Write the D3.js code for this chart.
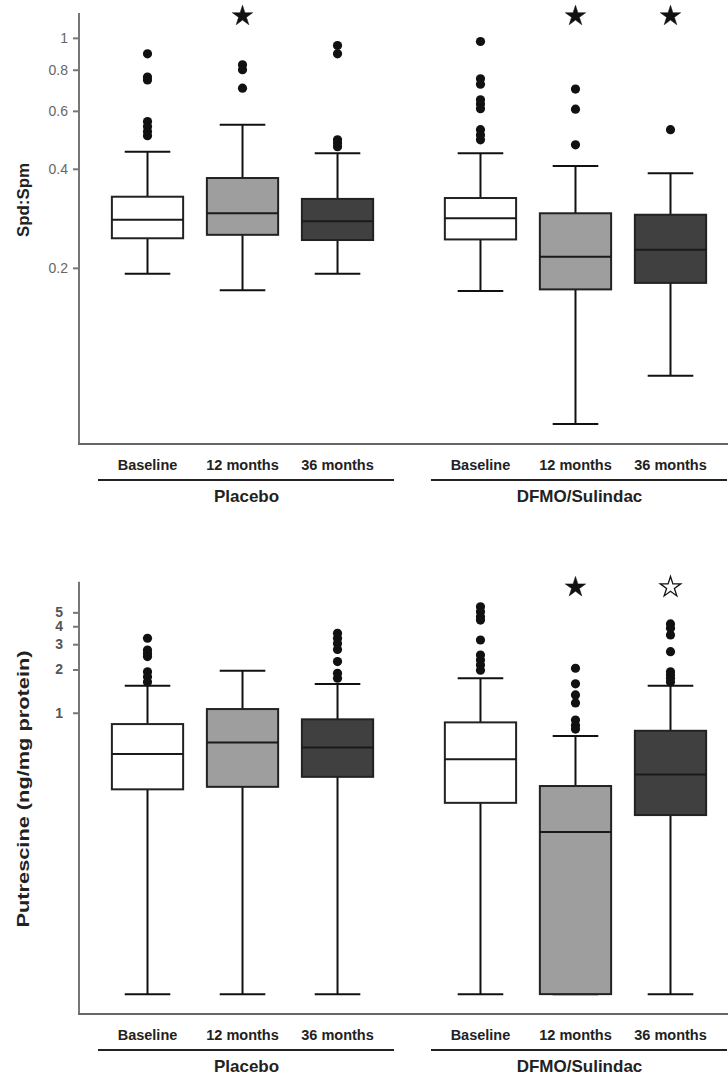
<!DOCTYPE html>
<html>
<head>
<meta charset="utf-8">
<script src="https://cdn.jsdelivr.net/npm/d3@7"></script>
<style>
  body { margin: 0; background: #fff; }
  text { font-family: "Liberation Sans", Arial, sans-serif; }
</style>
</head>
<body>
<svg id="chart" width="728" height="1086"></svg>
<script>
// categories
const groups = ["Placebo", "DFMO/Sulindac"];
const periods = ["Baseline", "12 months", "36 months"];

// Spd:Spm - order: Placebo (Baseline, 12, 36), DFMO/Sulindac (Baseline, 12, 36)
const spdLow = [0.192, 0.171, 0.192, 0.170, 0.067, 0.094];
const spdQ1 = [0.246, 0.252, 0.243, 0.244, 0.172, 0.180];
const spdMedian = [0.280, 0.293, 0.277, 0.283, 0.216, 0.227];
const spdQ3 = [0.329, 0.375, 0.324, 0.326, 0.293, 0.290];
const spdHigh = [0.451, 0.544, 0.446, 0.446, 0.408, 0.388];
const spdOutliers = [
  [0.894, 0.760, 0.745, 0.557, 0.538, 0.519, 0.504],
  [0.828, 0.800, 0.703],
  [0.948, 0.894, 0.490, 0.479, 0.467],
  [0.975, 0.751, 0.723, 0.648, 0.630, 0.609, 0.526, 0.507, 0.490],
  [0.699, 0.607, 0.473],
  [0.526]
];
const spdStars = ["", "filled", "", "", "filled", "filled"];
const spdTicks = [0.2, 0.4, 0.6, 0.8, 1];

// Putrescine (ng/mg protein)
const putLow = [0.011, 0.011, 0.011, 0.011, 0.011, 0.011];
const putQ1 = [0.293, 0.305, 0.358, 0.236, 0.011, 0.194];
const putMedian = [0.516, 0.622, 0.574, 0.474, 0.148, 0.372];
const putQ3 = [0.834, 1.061, 0.900, 0.857, 0.309, 0.749];
const putHigh = [1.542, 1.961, 1.585, 1.736, 0.688, 1.542];
const putOutliers = [
  [3.30, 2.73, 2.59, 2.46, 1.93, 1.78, 1.64],
  [],
  [3.57, 3.30, 3.04, 2.76, 2.27, 1.88, 1.74],
  [5.47, 5.05, 4.66, 4.42, 3.21, 2.52, 2.33, 2.15, 1.98],
  [2.04, 1.59, 1.33, 1.17, 0.89, 0.82, 0.77],
  [4.15, 3.87, 3.48, 2.66, 1.93, 1.83, 1.74, 1.64]
];
const putStars = ["", "", "", "", "filled", "open"];
const putTicks = [1, 2, 3, 4, 5];

const svg = d3.select("#chart");
const fills = { "Baseline": "#ffffff", "12 months": "#9e9e9e", "36 months": "#404040" };
const axisX = 79;

const x0 = d3.scaleBand().domain(groups).range([100, 718]).paddingInner(0.144);
const x1 = d3.scaleBand().domain(periods).range([0, x0.bandwidth()]);
const boxW = x1.bandwidth() * 0.75;
const capW = x1.bandwidth() * 0.48;

function buildRows(low, q1, med, q3, high, outliers, stars) {
  return low.map(function (d, i) {
    return {
      group: groups[Math.floor(i / 3)], period: periods[i % 3],
      low: d, q1: q1[i], med: med[i], q3: q3[i], high: high[i],
      outliers: outliers[i], star: stars[i]
    };
  });
}

function cx(d) { return x0(d.group) + x1(d.period) + x1.bandwidth() / 2; }

function drawPanel(cfg) {
  const y = d3.scaleLog().domain(cfg.domain).range([cfg.bottom, cfg.top]);
  const g = svg.append("g");

  // axes
  const ax = g.append("g")
    .attr("transform", "translate(" + axisX + ",0)")
    .call(d3.axisLeft(y).tickValues(cfg.ticks).tickSize(6).tickPadding(cfg.pad)
      .tickFormat(d3.format("~g")));
  ax.select(".domain").remove();
  ax.selectAll(".tick line").attr("stroke", "#777").attr("stroke-width", 2);
  ax.selectAll(".tick text")
    .attr("fill", cfg.tickColor)
    .style("font-size", "14px")
    .style("font-weight", cfg.tickWeight)
    .style("font-family", "Liberation Sans, Arial, sans-serif");

  g.append("line")
    .attr("x1", axisX).attr("x2", axisX)
    .attr("y1", cfg.top).attr("y2", cfg.bottom + 1)
    .attr("stroke", "#777").attr("stroke-width", 2);
  g.append("line")
    .attr("x1", axisX - 1).attr("x2", 728)
    .attr("y1", cfg.bottom).attr("y2", cfg.bottom)
    .attr("stroke", "#666").attr("stroke-width", 2);

  // y title
  g.append("text")
    .attr("transform", "translate(" + cfg.titleX + "," + cfg.titleY + ") rotate(-90)")
    .attr("text-anchor", "middle")
    .attr("dy", "0.35em")
    .attr("textLength", cfg.titleLen)
    .attr("lengthAdjust", "spacingAndGlyphs")
    .style("font-size", "17px")
    .style("font-weight", "bold")
    .attr("fill", "#222")
    .text(cfg.title);

  const box = g.selectAll(".box")
    .data(cfg.rows)
    .enter().append("g")
    .attr("class", "box");

  // whiskers
  box.append("line")
    .attr("x1", cx).attr("x2", cx)
    .attr("y1", function (d) { return y(d.high); })
    .attr("y2", function (d) { return y(d.low); })
    .attr("stroke", "#111").attr("stroke-width", 2);
  box.append("line")
    .attr("x1", function (d) { return cx(d) - capW / 2; })
    .attr("x2", function (d) { return cx(d) + capW / 2; })
    .attr("y1", function (d) { return y(d.high); })
    .attr("y2", function (d) { return y(d.high); })
    .attr("stroke", "#111").attr("stroke-width", 2);
  box.append("line")
    .attr("x1", function (d) { return cx(d) - capW / 2; })
    .attr("x2", function (d) { return cx(d) + capW / 2; })
    .attr("y1", function (d) { return y(d.low); })
    .attr("y2", function (d) { return y(d.low); })
    .attr("stroke", "#111").attr("stroke-width", 2);

  // boxes
  box.append("rect")
    .attr("x", function (d) { return cx(d) - boxW / 2; })
    .attr("y", function (d) { return y(d.q3); })
    .attr("width", boxW)
    .attr("height", function (d) { return y(d.q1) - y(d.q3); })
    .style("fill", function (d) { return fills[d.period]; })
    .style("stroke", "#222")
    .style("stroke-width", 2);
  box.append("line")
    .attr("x1", function (d) { return cx(d) - boxW / 2; })
    .attr("x2", function (d) { return cx(d) + boxW / 2; })
    .attr("y1", function (d) { return y(d.med); })
    .attr("y2", function (d) { return y(d.med); })
    .attr("stroke", "#1a1a1a").attr("stroke-width", 2);

  // outliers
  box.selectAll(".out")
    .data(function (d) { return d.outliers.map(function (v) { return { v: v, x: cx(d) }; }); })
    .enter().append("circle")
    .attr("cx", function (d) { return d.x; })
    .attr("cy", function (d) { return y(d.v); })
    .attr("r", 4.6)
    .attr("fill", "#111");

  // significance stars
  g.selectAll(".star")
    .data(cfg.rows.filter(function (d) { return d.star !== ""; }))
    .enter().append("path")
    .attr("d", d3.symbol().type(d3.symbolStar).size(130))
    .attr("transform", function (d) { return "translate(" + cx(d) + "," + (cfg.top + cfg.starOffset) + ")"; })
    .attr("fill", function (d) { return d.star === "filled" ? "#111" : "#fff"; })
    .attr("stroke", "#111")
    .attr("stroke-width", function (d) { return d.star === "filled" ? 0.5 : 1.3; });

  // period labels
  g.selectAll(".plabel")
    .data(cfg.rows)
    .enter().append("text")
    .attr("x", cx)
    .attr("y", cfg.bottom + 21)
    .attr("dy", "0.35em")
    .attr("text-anchor", "middle")
    .style("font-size", "14.5px")
    .style("font-weight", "bold")
    .attr("fill", "#222")
    .text(function (d) { return d.period; });

  // group underline + label
  g.selectAll(".gline")
    .data(groups)
    .enter().append("line")
    .attr("x1", function (d) { return x0(d) - 2; })
    .attr("x2", function (d) { return x0(d) + x0.bandwidth() + 9; })
    .attr("y1", cfg.bottom + 36)
    .attr("y2", cfg.bottom + 36)
    .attr("stroke", "#222").attr("stroke-width", 2);
  g.selectAll(".glabel")
    .data(groups)
    .enter().append("text")
    .attr("x", function (d) { return x0(d) + x0.bandwidth() / 2 + 4; })
    .attr("y", cfg.bottom + 52)
    .attr("dy", "0.35em")
    .attr("text-anchor", "middle")
    .style("font-size", "17px")
    .style("font-weight", "bold")
    .attr("fill", "#222")
    .text(function (d) { return d; });
}

drawPanel({
  rows: buildRows(spdLow, spdQ1, spdMedian, spdQ3, spdHigh, spdOutliers, spdStars),
  domain: [0.0583, 1.19], top: 13, bottom: 444,
  ticks: spdTicks, pad: 5, tickColor: "#666", tickWeight: "normal",
  title: "Spd:Spm", titleX: 23, titleY: 200, titleLen: 74,
  starOffset: 3
});

drawPanel({
  rows: buildRows(putLow, putQ1, putMedian, putQ3, putHigh, putOutliers, putStars),
  domain: [0.008, 8.17], top: 581.7, bottom: 1014,
  ticks: putTicks, pad: 10, tickColor: "#555", tickWeight: "bold",
  title: "Putrescine (ng/mg protein)", titleX: 23, titleY: 789, titleLen: 277,
  starOffset: 5.5
});
</script>
</body>
</html>
